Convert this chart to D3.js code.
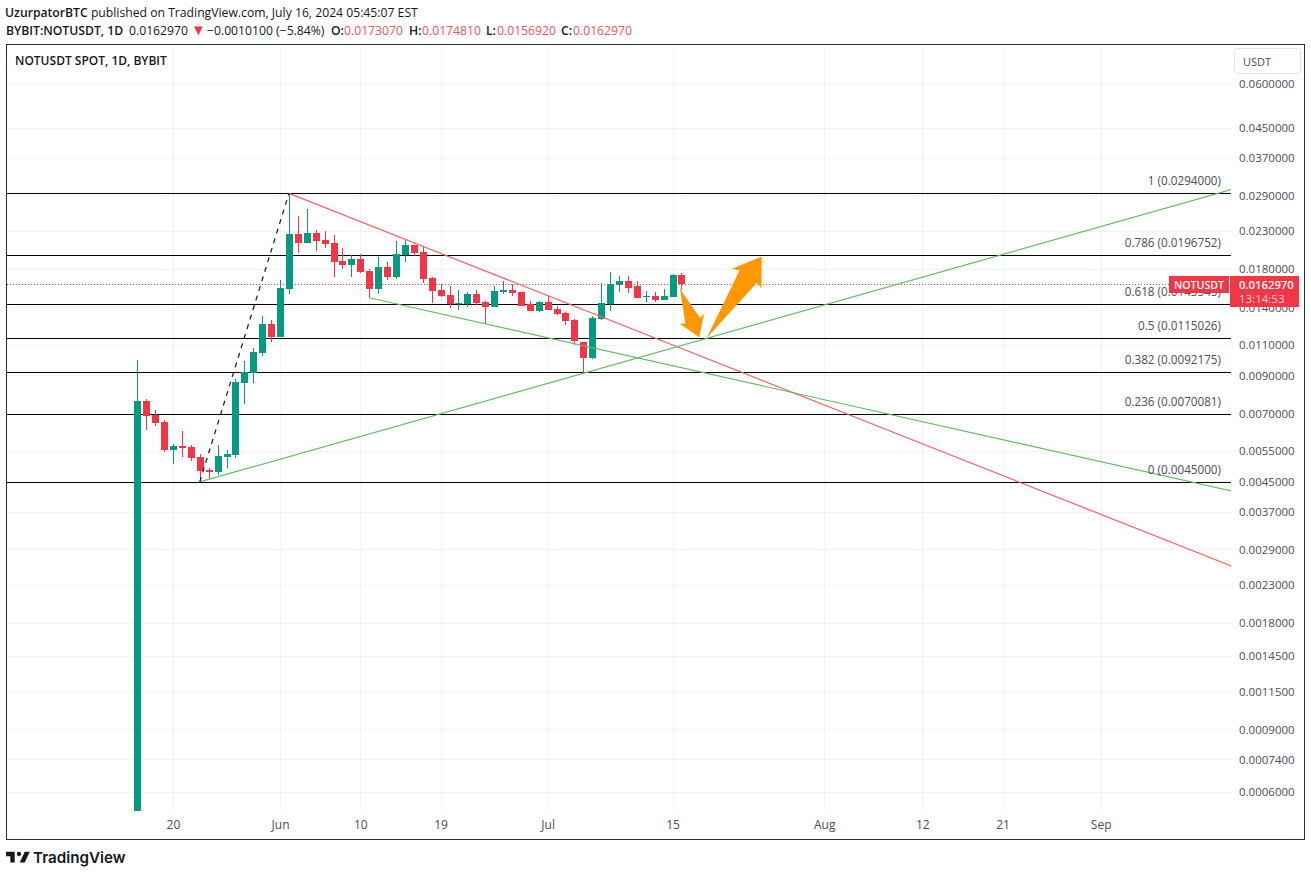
<!DOCTYPE html>
<html>
<head>
<meta charset="utf-8">
<script src="https://cdn.jsdelivr.net/npm/d3@7"></script>
<style>
  html, body { margin: 0; padding: 0; background: #fff; }
  text { font-family: "Open Sans", sans-serif; }
</style>
</head>
<body>
<div id="chart"></div>
<script>
// daily candles, first one is 16 May 2024
const firstDay = "2024-05-16";
const opens = [0.0005, 0.00763, 0.00696, 0.00665, 0.005546, 0.00569, 0.00565, 0.00529, 0.004869, 0.00481, 0.00529, 0.00537, 0.00857, 0.00915, 0.01042, 0.01258, 0.01156, 0.01581, 0.0226, 0.02132, 0.02275, 0.021745, 0.02132, 0.01897, 0.01847, 0.01922, 0.01777, 0.01581, 0.01822, 0.01708, 0.01971, 0.02104, 0.02007, 0.01695, 0.015706, 0.0152, 0.01427, 0.01433, 0.0153, 0.01452, 0.01405, 0.0155, 0.015706, 0.0155, 0.01433, 0.0137, 0.01452, 0.01388, 0.01352, 0.012921, 0.0112, 0.01009, 0.01301, 0.01433, 0.01622, 0.01665, 0.01605, 0.01499, 0.01509, 0.01472, 0.01499, 0.017307];
const highs = [0.00996, 0.007728, 0.007195, 0.006741, 0.005765, 0.006276, 0.00573, 0.0054, 0.00493, 0.00573, 0.005546, 0.0088, 0.0099, 0.01077, 0.01325, 0.012921, 0.016762, 0.0294, 0.0254, 0.0266, 0.023206, 0.02305, 0.02245, 0.02061, 0.01971, 0.01985, 0.018, 0.01945, 0.01884, 0.0216, 0.02187, 0.02104, 0.02077, 0.01708, 0.01633, 0.01611, 0.015706, 0.0155, 0.015706, 0.01462, 0.01605, 0.01665, 0.01633, 0.0155, 0.01462, 0.01462, 0.01509, 0.01414, 0.01361, 0.01301, 0.0112, 0.01325, 0.0164, 0.01766, 0.0172, 0.0172, 0.01665, 0.01561, 0.0155, 0.01581, 0.01743, 0.017481];
const lows = [0.0005, 0.006317, 0.00648, 0.00547, 0.00506, 0.00529, 0.00516, 0.0045, 0.00459, 0.00471, 0.00493, 0.00526, 0.00748, 0.00857, 0.01022, 0.0112, 0.01156, 0.0153, 0.01998, 0.02132, 0.02024, 0.02061, 0.01708, 0.018, 0.01708, 0.01754, 0.01491, 0.0153, 0.016762, 0.01687, 0.01884, 0.01958, 0.0164, 0.01443, 0.01499, 0.01395, 0.01379, 0.01405, 0.01424, 0.01258, 0.01405, 0.0153, 0.01509, 0.01414, 0.0137, 0.01361, 0.01379, 0.01334, 0.0125, 0.01098, 0.00915, 0.01002, 0.01292, 0.0137, 0.0155, 0.0154, 0.01491, 0.01452, 0.01452, 0.01472, 0.01499, 0.015692];
const closes = [0.00763, 0.006914, 0.00661, 0.005546, 0.00569, 0.00561, 0.00526, 0.00484, 0.00481, 0.00533, 0.0054, 0.00863, 0.00921, 0.01049, 0.01258, 0.01156, 0.01589, 0.0226, 0.02132, 0.02275, 0.0216, 0.02118, 0.01884, 0.01847, 0.01922, 0.01766, 0.01581, 0.01822, 0.01708, 0.01985, 0.02104, 0.01998, 0.01684, 0.01561, 0.01509, 0.01433, 0.01443, 0.0153, 0.01443, 0.01405, 0.01561, 0.015706, 0.0154, 0.01414, 0.0137, 0.01452, 0.01379, 0.01343, 0.01284, 0.01122, 0.01009, 0.01308, 0.01443, 0.01633, 0.01665, 0.01589, 0.01491, 0.01509, 0.01472, 0.01509, 0.01731, 0.016297];

const priceTicks = [0.06, 0.045, 0.037, 0.029, 0.023, 0.018, 0.014, 0.011, 0.009, 0.007, 0.0055, 0.0045, 0.0037, 0.0029, 0.0023, 0.0018, 0.00145, 0.00115, 0.0009, 0.00074, 0.0006];
const timeTicks = ["2024-05-20", "2024-06-01", "2024-06-10", "2024-06-19", "2024-07-01", "2024-07-15", "2024-08-01", "2024-08-12", "2024-08-21", "2024-09-01"];
const timeLabels = ["20", "Jun", "10", "19", "Jul", "15", "Aug", "12", "21", "Sep"];

const fibRatios = ["1", "0.786", "0.618", "0.5", "0.382", "0.236", "0"];
const fibPrices = [0.0294, 0.0196752, 0.0143545, 0.0115026, 0.0092175, 0.0070081, 0.0045];

// [start date, start price, end date, end price]
const redTrend = ["2024-06-02", 0.0294, "2024-09-16", 0.002584];
const greenFalling = ["2024-06-11", 0.01491, "2024-09-16", 0.004226];
const greenRising = ["2024-05-23", 0.0045, "2024-09-16", 0.0303];
const fibDashed = ["2024-05-23", 0.0045, "2024-06-02", 0.0294];
const arrowDown = ["2024-07-15T20:00Z", 0.01578, "2024-07-18", 0.01154];
const arrowUp = ["2024-07-18T20:00Z", 0.01147, "2024-07-25", 0.0195];

const lastPrice = 0.016297;

const width = 1311, height = 876;
const GREEN = "#089981", RED = "#f23645", INK = "#131722", AXIS = "#4a4e59", GRID = "#f0f3fa";
const plot = { left: 7, right: 1231, top: 45, bottom: 811 };

const svg = d3.select("#chart").append("svg")
  .attr("width", width)
  .attr("height", height)
  .style("display", "block");

const x = d3.scaleUtc()
  .domain([new Date("2024-05-16"), new Date("2024-09-16")])
  .range([137.3, 1234.5]);

const y = d3.scaleLog()
  .domain([0.06, 0.0006])
  .range([83.7, 791.7]);

const snap = v => Math.round(v) + 0.5;

svg.append("defs").append("clipPath").attr("id", "plot-clip")
  .append("rect")
  .attr("x", plot.left).attr("y", plot.top)
  .attr("width", plot.right - plot.left).attr("height", plot.bottom - plot.top);

// grid
const grid = svg.append("g").attr("stroke", GRID).attr("shape-rendering", "crispEdges");
grid.selectAll(".h").data(priceTicks).join("line")
  .attr("x1", plot.left).attr("x2", plot.right)
  .attr("y1", d => snap(y(d))).attr("y2", d => snap(y(d)));
grid.selectAll(".v").data(timeTicks).join("line")
  .attr("x1", d => snap(x(new Date(d)))).attr("x2", d => snap(x(new Date(d))))
  .attr("y1", plot.top).attr("y2", plot.bottom);

const chart = svg.append("g").attr("clip-path", "url(#plot-clip)");

// fib levels
chart.append("g").selectAll("line").data(fibPrices).join("line")
  .attr("x1", plot.left).attr("x2", plot.right)
  .attr("y1", d => snap(y(d))).attr("y2", d => snap(y(d)))
  .attr("stroke", "#000").attr("shape-rendering", "crispEdges");

svg.append("g").selectAll("text").data(fibPrices).join("text")
  .attr("x", 1221)
  .attr("y", d => y(d) - 8)
  .attr("text-anchor", "end")
  .attr("font-size", 11.7)
  .attr("fill", AXIS)
  .text((d, i) => `${fibRatios[i]} (${d.toFixed(7)})`);

// last price dotted line
chart.append("line")
  .attr("x1", plot.left).attr("x2", plot.right)
  .attr("y1", snap(y(lastPrice))).attr("y2", snap(y(lastPrice)))
  .attr("stroke", RED).attr("stroke-dasharray", "1 2");

// candles
const candles = chart.append("g").selectAll("g").data(opens).join("g")
  .attr("fill", (d, i) => closes[i] >= d ? GREEN : RED)
  .attr("stroke", (d, i) => closes[i] >= d ? GREEN : RED)
  .attr("shape-rendering", "crispEdges");
const dayX = i => Math.round(x(d3.utcDay.offset(new Date(firstDay), i)));
candles.append("line")
  .attr("x1", (d, i) => dayX(i) + 0.5).attr("x2", (d, i) => dayX(i) + 0.5)
  .attr("y1", (d, i) => y(highs[i])).attr("y2", (d, i) => y(lows[i]));
candles.append("rect")
  .attr("stroke", "none")
  .attr("x", (d, i) => dayX(i) - 3)
  .attr("width", 7)
  .attr("y", (d, i) => y(Math.max(d, closes[i])))
  .attr("height", (d, i) => Math.max(1, Math.abs(y(d) - y(closes[i]))));

// trend lines
const trendLine = (t, color, dash, w) => chart.append("line")
  .attr("x1", x(new Date(t[0]))).attr("y1", y(t[1]))
  .attr("x2", x(new Date(t[2]))).attr("y2", y(t[3]))
  .attr("stroke", color)
  .attr("stroke-width", w)
  .attr("stroke-dasharray", dash);
trendLine(redTrend, "#f4616b", null, 1.2);
trendLine(greenFalling, "#66bb6a", null, 1.2);
trendLine(greenRising, "#66bb6a", null, 1.2);
trendLine(fibDashed, INK, "5 5", 1.2);

// orange arrows, tail is a point and the head grows with the length
function drawArrow(a) {
  const x0 = x(new Date(a[0])), y0 = y(a[1]), x1 = x(new Date(a[2])), y1 = y(a[3]);
  const len = Math.hypot(x1 - x0, y1 - y0);
  const ux = (x1 - x0) / len, uy = (y1 - y0) / len;
  const head = 12 + 0.15 * len, wing = 0.66 * head, neck = 0.6 * wing;
  const at = (along, side) => [x0 + ux * along - uy * side, y0 + uy * along + ux * side];
  const pts = [[x0, y0], at(len - head * 0.9, neck), at(len - head, wing), [x1, y1], at(len - head, -wing), at(len - head * 0.9, -neck)];
  svg.append("path").attr("d", d3.line()(pts) + "Z").attr("fill", "#ff9800");
}
drawArrow(arrowDown);
drawArrow(arrowUp);

// price axis
const priceAxis = svg.append("g")
  .attr("transform", "translate(1232,0)")
  .call(d3.axisRight(y).tickValues(priceTicks).tickSize(0).tickPadding(7).tickFormat(d3.format(".7f")));
priceAxis.select(".domain").remove();
priceAxis.selectAll("text").attr("font-size", 11.5).attr("fill", AXIS).style("font-family", "Open Sans, sans-serif");

// time axis
const timeAxis = svg.append("g")
  .attr("transform", "translate(0,811)")
  .call(d3.axisBottom(x).tickValues(timeTicks.map(d => new Date(d))).tickSize(0).tickPadding(9)
    .tickFormat((d, i) => timeLabels[i]));
timeAxis.select(".domain").remove();
timeAxis.selectAll("text").attr("font-size", 12).attr("fill", AXIS).style("font-family", "Open Sans, sans-serif");

// frame
svg.append("rect")
  .attr("x", 6.5).attr("y", 44.5).attr("width", 1298).attr("height", 795)
  .attr("fill", "none").attr("stroke", "#2a2e39").attr("shape-rendering", "crispEdges");

// USDT button
svg.append("rect")
  .attr("x", 1234.5).attr("y", 48.5).attr("width", 66).attr("height", 25).attr("rx", 3)
  .attr("fill", "#fff").attr("stroke", "#e0e3eb");
svg.append("text").attr("x", 1243).attr("y", 66).attr("font-size", 11).attr("fill", AXIS).text("USDT");

// last price tags
const tagY = Math.round(y(lastPrice)) - 8;
svg.append("rect").attr("x", 1169).attr("y", tagY).attr("width", 60).attr("height", 17).attr("fill", RED);
svg.append("text").attr("x", 1199).attr("y", tagY + 13).attr("text-anchor", "middle")
  .attr("font-size", 10.6).attr("font-weight", 600).attr("fill", "#fff").text("NOTUSDT");
svg.append("rect").attr("x", 1230).attr("y", tagY).attr("width", 69).attr("height", 31).attr("fill", RED);
svg.append("text").attr("x", 1239).attr("y", tagY + 13)
  .attr("font-size", 11.3).attr("font-weight", 600).attr("fill", "#fff").text(lastPrice.toFixed(7));
svg.append("text").attr("x", 1239).attr("y", tagY + 27)
  .attr("font-size", 11.5).attr("fill", "#fbd5d9").text("13:14:53");

// header
const head1 = svg.append("text").attr("x", 5).attr("y", 17).attr("font-size", 12.2).attr("fill", INK);
head1.append("tspan").attr("font-weight", 600).text("UzurpatorBTC");
head1.append("tspan").text(" published on TradingView.com, July 16, 2024 05:45:07 EST");

const head2 = svg.append("text").attr("y", 34.5).attr("font-size", 12.2).attr("fill", INK);
const seg = (px, t, bold, color) => head2.append("tspan")
  .attr("x", px)
  .attr("font-weight", bold ? 600 : 400).attr("fill", color || INK).text(t);
const VALUE_RED = "#f0525c";
seg(6, "BYBIT:NOTUSDT, 1D", true);
seg(129, "0.0162970");
seg(191, "▼", false, RED).attr("font-size", 15);
seg(207, "−0.0010100 (−5.84%)");
seg(331, "O:", true); seg(344, "0.0173070", false, VALUE_RED);
seg(409, "H:", true); seg(422, "0.0174810", false, VALUE_RED);
seg(486, "L:", true); seg(497, "0.0156920", false, VALUE_RED);
seg(561, "C:", true); seg(573, "0.0162970", false, VALUE_RED);

svg.append("text").attr("x", 15).attr("y", 65).attr("font-size", 12).attr("font-weight", 600)
  .attr("fill", INK).text("NOTUSDT SPOT, 1D, BYBIT");

// logo
svg.append("path")
  .attr("transform", "translate(4.6,847.5) scale(0.72)")
  .attr("fill", INK)
  .attr("d", "M14 6H2v6h6v9h6V6Zm14 15h-7l7-15h7l-7 15Zm-8-9a3 3 0 1 0 0-6 3 3 0 0 0 0 6Z");
svg.append("text").attr("x", 33).attr("y", 863).attr("font-size", 15.2).attr("font-weight", 600)
  .attr("fill", INK).style("font-family", "Inter, sans-serif").text("TradingView");
</script>
</body>
</html>
